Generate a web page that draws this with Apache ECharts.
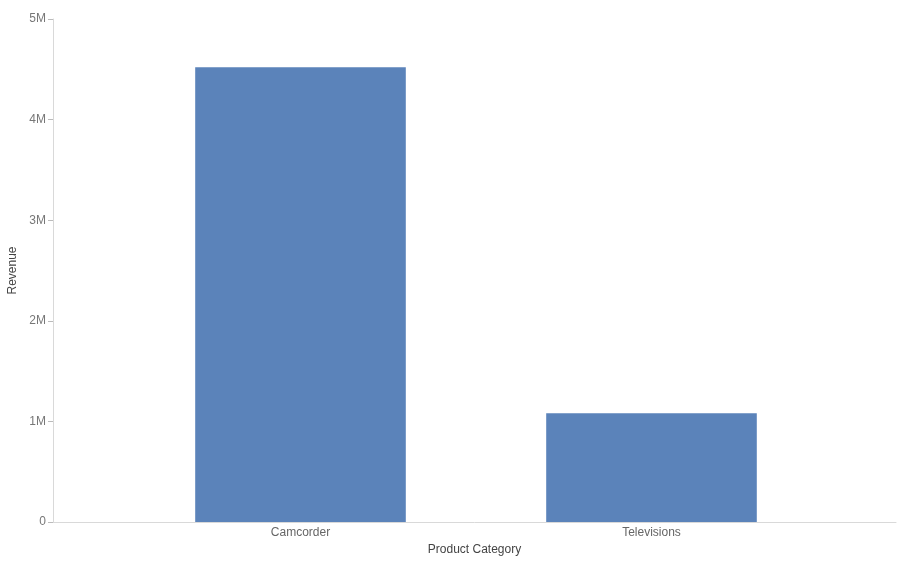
<!DOCTYPE html>
<html>
<head>
<meta charset="utf-8">
<script src="https://cdn.jsdelivr.net/npm/echarts@6/dist/echarts.min.js"></script>
<style>
  html, body { margin: 0; padding: 0; background: #fff; }
  #chart { width: 904px; height: 564px; }
</style>
</head>
<body>
<div id="chart"></div>
<script>
var categories = ['Camcorder', 'Televisions'];
var revenue = [4520000, 1080000];
var yTicks = [0, 1000000, 2000000, 3000000, 4000000, 5000000];

var myChart = echarts.init(document.getElementById('chart'));

function fmt(v) { return v === 0 ? '0' : (v / 1000000) + 'M'; }

var option = {
  animation: false,
  grid: [
    // outer frame: full width axis lines
    { left: 53, right: 8, top: 19, bottom: 42, outerBoundsMode: 'none' },
    // inner plot: padded band for the bars
    { left: 125, right: 77, top: 19, bottom: 42, outerBoundsMode: 'none' }
  ],
  xAxis: [{
    gridIndex: 0,
    type: 'category',
    data: [''],
    name: 'Product Category',
    nameLocation: 'middle',
    nameGap: 22,
    nameTextStyle: { color: '#444', fontSize: 12, fontFamily: 'Arial' },
    axisLine: { lineStyle: { color: '#d9d9d9' } },
    axisTick: { show: false },
    axisLabel: { show: false }
  }, {
    gridIndex: 1,
    type: 'category',
    data: categories,
    axisLine: { show: false },
    axisTick: { show: false },
    axisLabel: { color: '#666', fontSize: 12, fontFamily: 'Arial', margin: 5 }
  }],
  yAxis: [{
    gridIndex: 0,
    type: 'value',
    min: yTicks[0],
    max: yTicks[yTicks.length - 1],
    interval: yTicks[1] - yTicks[0],
    name: 'Revenue',
    nameLocation: 'middle',
    nameGap: 32,
    nameTextStyle: { color: '#444', fontSize: 12, fontFamily: 'Arial' },
    axisLine: { show: true, lineStyle: { color: '#d9d9d9' } },
    axisTick: { show: true, length: 5, lineStyle: { color: '#bbb' } },
    splitLine: { show: false },
    axisLabel: { color: '#777', fontSize: 12, fontFamily: 'Arial', margin: 7, formatter: fmt }
  }, {
    gridIndex: 1,
    type: 'value',
    min: yTicks[0],
    max: yTicks[yTicks.length - 1],
    interval: yTicks[1] - yTicks[0],
    show: false
  }],
  series: [{
    type: 'bar',
    xAxisIndex: 1,
    yAxisIndex: 1,
    data: revenue,
    barWidth: '60%',
    itemStyle: { color: '#5B83BA' }
  }]
};
myChart.setOption(option);
</script>
</body>
</html>
